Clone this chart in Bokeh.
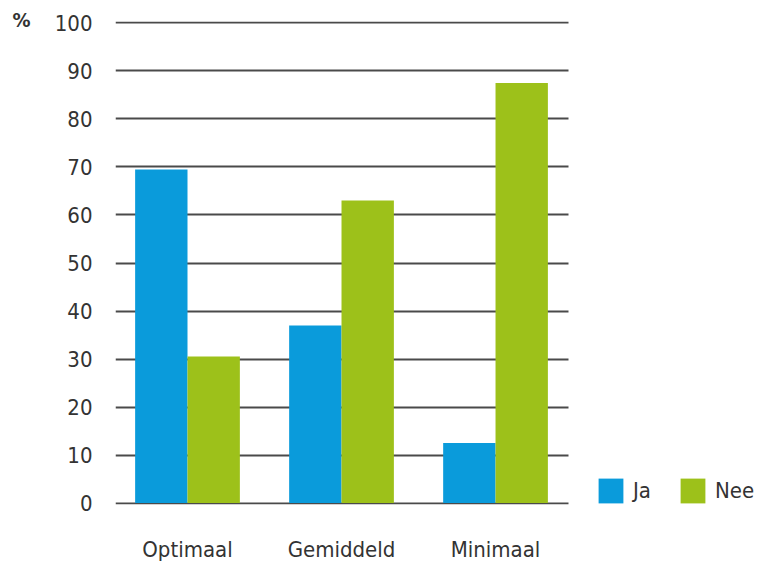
import numpy as np
from bokeh.plotting import figure
from bokeh.models import ColumnDataSource, FixedTicker, Range1d, Title, Legend, LegendItem
from bokeh.embed import file_html
from bokeh.resources import INLINE

categories = ["Optimaal", "Gemiddeld", "Minimaal"]
ja = [69.5, 37, 12.5]
nee = [30.5, 63, 87.5]
yticks = [0, 10, 20, 30, 40, 50, 60, 70, 80, 90, 100]
series = ["Ja", "Nee"]

FONT = "DejaVu Sans Condensed"
TXT = "#333333"
BLUE = "#0A9BDB"
GREEN = "#9DC11A"

pos = np.arange(len(categories)) + 0.5

X0, X1 = 0.0325, 4.201       # visible x window (category slots are 1 unit wide)
GRID_END = 2.974             # gridlines stop after the last category

p = figure(x_range=Range1d(X0, X1), y_range=Range1d(-0.3, 100.3),
           width=757, height=564, output_backend="svg", toolbar_location=None,
           min_border_left=115, min_border_right=0, min_border_top=21, min_border_bottom=55)
p.outline_line_color = None
p.xgrid.grid_line_color = None
p.ygrid.grid_line_color = "#4a4a4a"
p.ygrid.grid_line_width = 2
p.ygrid.ticker = FixedTicker(ticks=yticks)
p.ygrid.cross_bounds = (X0, GRID_END)

for ax in (p.xaxis[0], p.yaxis[0]):
    ax.axis_line_color = None
    ax.major_tick_line_color = None
    ax.minor_tick_line_color = None
    ax.major_label_text_font = FONT
    ax.major_label_text_font_size = "22px"
    ax.major_label_text_color = TXT

p.yaxis[0].ticker = FixedTicker(ticks=yticks)
p.yaxis[0].major_label_standoff = 17
p.xaxis[0].ticker = FixedTicker(ticks=list(pos))
p.xaxis[0].major_label_overrides = {float(x): c for x, c in zip(pos, categories)}
p.xaxis[0].major_label_standoff = 26

r1 = p.vbar(x=pos - 0.17, top=ja, width=0.34, fill_color=BLUE, line_color=None)
r2 = p.vbar(x=pos + 0.17, top=nee, width=0.34, fill_color=GREEN, line_color=None)

lg = Legend(items=[LegendItem(label=series[0], renderers=[r1]),
                   LegendItem(label=series[1], renderers=[r2])],
            location=(480, -2), orientation="horizontal",
            glyph_width=31, glyph_height=31, label_standoff=7, spacing=24,
            padding=0, margin=0, border_line_color=None, background_fill_alpha=0,
            label_text_font=FONT, label_text_font_size="22px", label_text_color=TXT,
            label_height=31)
p.add_layout(lg)

t = Title(text="%", align="left", offset=-103, standoff=-21,
          text_font=FONT, text_font_size="20px", text_font_style="bold", text_color=TXT)
p.add_layout(t, "above")

open("out.html", "w").write(file_html(p, INLINE))
